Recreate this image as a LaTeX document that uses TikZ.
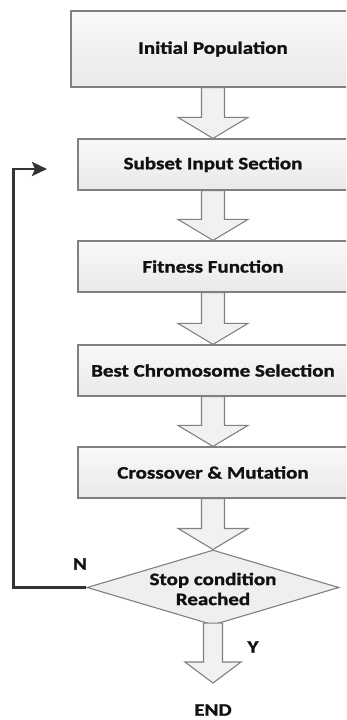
\documentclass[tikz,border=0pt]{standalone}
\usepackage{fontspec}
\newfontfamily\flowfont[FakeStretch=1.2, BoldFeatures={FakeBold=1.3}]{Carlito}
\usetikzlibrary{shapes.geometric,calc,arrows.meta}
\definecolor{boxline}{HTML}{808080}
\definecolor{boxtop}{HTML}{F9F9F9}
\definecolor{boxbot}{HTML}{E9E9E9}
\definecolor{ink}{HTML}{111111}
\definecolor{loopline}{HTML}{333333}
% block arrow between two stages: start, tip, shaft half-width, head half-width, head length
\newcommand\flowarrow[5]{%
  \path[blockarrow] ($(#1)+(-#3,0)$) -- ($(#2)+(-#3,-#5)$) -- ($(#2)+(-#4,-#5)$)
    -- (#2) -- ($(#2)+(#4,-#5)$) -- ($(#2)+(#3,-#5)$) -- ($(#1)+(#3,0)$) -- cycle;}
\begin{document}
\begin{tikzpicture}[x=1pt,y=-1pt,
  labelfont/.style={font=\flowfont\bfseries\fontsize{17.5}{20}\selectfont, text=ink},
  stage/.style={draw=boxline, line width=1.2pt, top color=boxtop, bottom color=boxbot,
    minimum width=270pt, minimum height=51pt, inner sep=0pt, labelfont},
  decision/.style={diamond, draw=boxline, line width=1.1pt, fill=boxbot!60!boxtop,
    minimum width=252pt, minimum height=75pt, inner sep=0pt},
  blockarrow/.style={draw=boxline, line width=1.1pt, fill=boxbot!50!boxtop, line join=miter},
  feedback/.style={draw=loopline, line width=2.6pt, line join=miter,
    -{Stealth[length=15pt, width=14pt, inset=3pt]}},
  mark text/.style={labelfont, inner sep=1pt}]
\useasboundingbox (0,0) rectangle (346,720);
\clip (0,0) rectangle (346,720);
\fill[white] (0,0) rectangle (346,720);

% process stages
\node[stage, minimum width=284pt, minimum height=76pt] (init) at (213,49) {Initial Population};
\node[stage] (subset) at (213,164.5) {Subset Input Section};
\node[stage] (fitness) at (213,266.5) {Fitness Function};
\node[stage] (best) at (213,370.5) {Best Chromosome Selection};
\node[stage] (cross) at (213,472.5) {Crossover \& Mutation};

% decision
\node[decision] (stop) at (213,587.5) {};
\node[labelfont, align=center, inner sep=0pt] (stoptext) at (213,589) {Stop condition\\Reached};

% labels
\node[mark text] (endtext) at (213,710) {END};
\node[mark text] (no) at (80,564) {N};
\node[mark text] (yes) at (253,647) {Y};

% block arrows between the stages
\flowarrow{init.south}{subset.north}{11.5}{35}{21}
\flowarrow{subset.south}{fitness.north}{11.5}{35}{21}
\flowarrow{fitness.south}{best.north}{11.5}{35}{21}
\flowarrow{best.south}{cross.north}{11.5}{35}{21}
\flowarrow{cross.south}{stop.north}{11.5}{35}{21}
\coordinate (ytop) at ($(stop.south)+(0,-2.5)$);
\coordinate (endtip) at (213,683);
\flowarrow{ytop}{endtip}{9.5}{28}{21}

% loop back when the stop condition fails
\coordinate (backin) at (47,169);
\draw[feedback] (stop.west) -- ++(-73,0) |- (backin);
\end{tikzpicture}
\end{document}
